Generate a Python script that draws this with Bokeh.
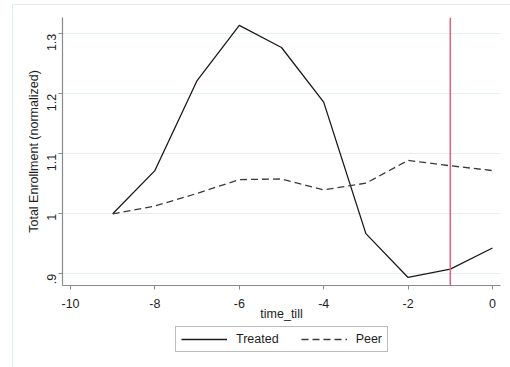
import math
from bokeh.plotting import figure
from bokeh.layouts import column
from bokeh.models import FixedTicker, Span, Legend, LegendItem, Range1d
from bokeh.embed import file_html
from bokeh.resources import INLINE

# ---- data ----
time_till = [-9, -8, -7, -6, -5, -4, -3, -2, -1, 0]
treated = [1.000, 1.072, 1.222, 1.314, 1.277, 1.186, 0.967, 0.894, 0.908, 0.943]
peer = [1.000, 1.013, 1.034, 1.057, 1.058, 1.040, 1.051, 1.089, 1.080, 1.072]
x_ticks = [-10, -8, -6, -4, -2, 0]
x_tick_labels = ["-10", "-8", "-6", "-4", "-2", "0"]
y_ticks = [0.9, 1.0, 1.1, 1.2, 1.3]
y_tick_labels = [".9", "1", "1.1", "1.2", "1.3"]
event_time = -1

FONT = "Liberation Sans"
AXIS_COL = "#8a8a8a"
TEXT_COL = "#1e1e1e"
REGION_LINE = "#e4eded"
TREATED_STYLE = dict(line_color="#1a1a1a", line_width=1.3)
PEER_STYLE = dict(line_color="#3a3a3a", line_width=1.3, line_dash="7 4")

p = figure(width=510, height=323, output_backend="svg", toolbar_location=None,
           x_range=Range1d(-10.19, 0.19), y_range=Range1d(0.8806, 1.327),
           min_border_left=62, min_border_right=10, min_border_top=17,
           min_border_bottom=34)
p.outline_line_color = None
p.background_fill_color = "white"
p.border_fill_alpha = 0.0

# axes
p.xaxis.ticker = FixedTicker(ticks=x_ticks)
p.xaxis.major_label_overrides = {t: l for t, l in zip(x_ticks, x_tick_labels)}
p.yaxis.ticker = FixedTicker(ticks=y_ticks)
p.yaxis.major_label_overrides = {t: l for t, l in zip(y_ticks, y_tick_labels)}
p.yaxis.major_label_orientation = math.pi / 2
p.xaxis.axis_label = "time_till"
p.yaxis.axis_label = "Total Enrollment (normalized)"
for ax in (p.xaxis[0], p.yaxis[0]):
    ax.axis_line_color = AXIS_COL
    ax.axis_line_width = 1.2
    ax.major_tick_line_color = AXIS_COL
    ax.major_tick_out = 4
    ax.major_tick_in = 0
    ax.minor_tick_line_color = None
    ax.major_label_text_font = FONT
    ax.major_label_text_font_size = "12.5px"
    ax.major_label_text_color = TEXT_COL
    ax.axis_label_text_font = FONT
    ax.axis_label_text_font_size = "12.5px"
    ax.axis_label_text_font_style = "normal"
    ax.axis_label_text_color = TEXT_COL
p.xaxis.major_label_standoff = 9
p.xaxis.axis_label_standoff = -4
p.yaxis.major_label_standoff = 7
p.yaxis.axis_label_standoff = -1

# grid
p.xgrid.grid_line_color = None
p.ygrid.grid_line_color = "#e6eff0"
p.ygrid.grid_line_width = 1

# lines
p.line(time_till, treated, **TREATED_STYLE)
p.line(time_till, peer, **PEER_STYLE)

p.add_layout(Span(location=event_time, dimension="height", line_color="#de5f7f",
                  line_width=1.5))

# ---- legend strip below the chart ----
# same series drawn off-view so that the legend has glyphs to show
lg = figure(width=510, height=44, output_backend="svg", toolbar_location=None,
            x_range=Range1d(-10.19, 0.19), y_range=Range1d(5, 6),
            min_border_left=0, min_border_right=0, min_border_top=0,
            min_border_bottom=0)
lg.axis.visible = False
lg.grid.visible = False
lg.outline_line_color = None
lg.background_fill_alpha = 0.0
lg.border_fill_alpha = 0.0
lk_t = lg.line(time_till, treated, **TREATED_STYLE)
lk_p = lg.line(time_till, peer, **PEER_STYLE)

legend = Legend(items=[LegendItem(label="Treated", renderers=[lk_t]),
                       LegendItem(label="Peer", renderers=[lk_p])],
                orientation="horizontal", location=(113, 15),
                border_line_color="#7a7a7a", border_line_width=1.2,
                background_fill_color="white", background_fill_alpha=1.0,
                label_text_font=FONT, label_text_font_size="12.5px",
                label_text_color=TEXT_COL,
                glyph_width=46, glyph_height=14, spacing=22, padding=5,
                label_standoff=9, margin=0)
lg.add_layout(legend, "center")

layout = column(p, lg, spacing=0)
# faint graph-region border (top and left edges) behind the transparent borders
layout.styles = {
    "background-color": "white",
    "background-image": f"linear-gradient({REGION_LINE},{REGION_LINE}), "
                        f"linear-gradient({REGION_LINE},{REGION_LINE})",
    "background-size": "498px 1px, 1px 363px",
    "background-position": "12px 4px, 12px 4px",
    "background-repeat": "no-repeat",
}
open("out.html", "w").write(file_html(layout, INLINE))
